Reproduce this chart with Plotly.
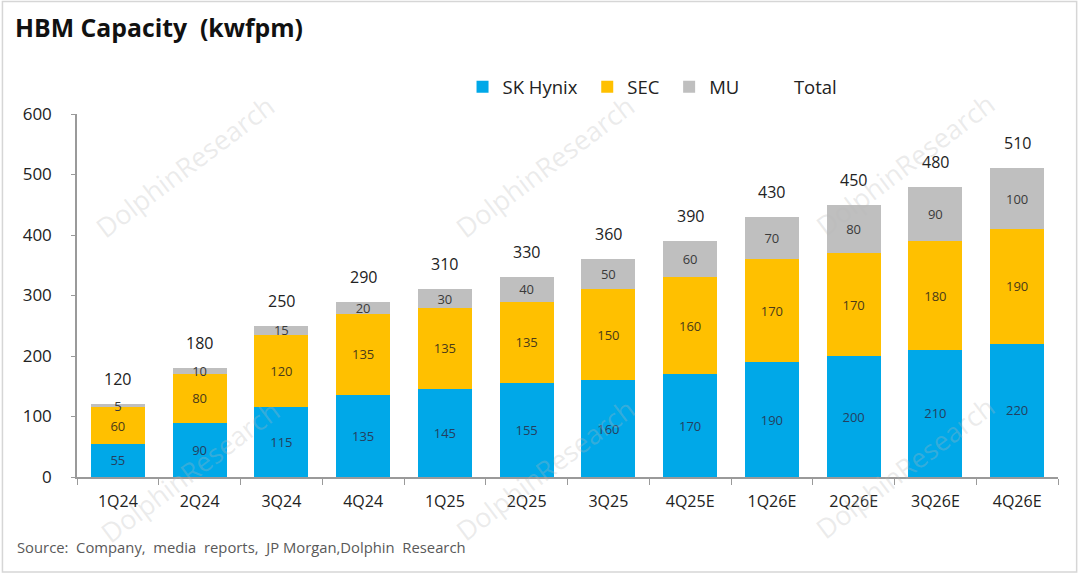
import plotly.graph_objects as go

categories = ["1Q24", "2Q24", "3Q24", "4Q24", "1Q25", "2Q25", "3Q25", "4Q25E", "1Q26E", "2Q26E", "3Q26E", "4Q26E"]
sk_hynix = [55, 90, 115, 135, 145, 155, 160, 170, 190, 200, 210, 220]
sec = [60, 80, 120, 135, 135, 135, 150, 160, 170, 170, 180, 190]
mu = [5, 10, 15, 20, 30, 40, 50, 60, 70, 80, 90, 100]
total = [120, 180, 250, 290, 310, 330, 360, 390, 430, 450, 480, 510]
y_ticks = [0, 100, 200, 300, 400, 500, 600]

FONT = "Open Sans"
NB = "\u00a0"
fig = go.Figure()

series = [
    ("SK Hynix" + NB, sk_hynix, "#00A8E8", "#24405F"),
    ("SEC" + NB, sec, "#FFC000", "#4A3A1A"),
    ("MU" + NB + NB, mu, "#BFBFBF", "#3A3A3A"),
]
for name, vals, color, tcolor in series:
    fig.add_trace(go.Bar(
        x=categories, y=vals, name=name,
        marker=dict(color=color, line=dict(width=0)),
        text=vals, textposition="inside", insidetextanchor="middle",
        textangle=0, textfont=dict(size=13, color=tcolor, family=FONT),
        cliponaxis=False,
    ))

fig.add_trace(go.Scatter(
    x=[None], y=[None], mode="lines", name="Total",
    line=dict(color="rgba(0,0,0,0)", width=0),
))

for c, t in zip(categories, total):
    fig.add_annotation(
        x=c, y=t, yshift=25, yanchor="middle", text=str(t), showarrow=False,
        font=dict(size=16, color="#222222", family=FONT),
    )

# faint watermarks
for (px, py) in [(0.11, 0.854), (0.477, 0.854), (0.844, 0.86), (0.115, 0.014), (0.477, 0.02), (0.844, 0.025)]:
    fig.add_annotation(
        xref="paper", yref="paper", x=px, y=py, xanchor="center", yanchor="middle",
        text="DolphinResearch", showarrow=False, textangle=-37,
        font=dict(size=27, color="rgba(185,185,185,0.28)", family=FONT),
    )

fig.update_layout(
    width=1080, height=575,
    barmode="stack", bargap=0.34,
    paper_bgcolor="white", plot_bgcolor="white",
    margin=dict(l=77, r=22, t=114, b=98),
    font=dict(family=FONT, color="#222222"),
    uniformtext=dict(minsize=13, mode="show"),
    title=dict(
        text="<b>HBM Capacity  (kwfpm)</b>", x=0.0139, xanchor="left",
        y=0.951, yanchor="middle", font=dict(size=24.8, color="#111111", family=FONT),
    ),
    legend=dict(
        orientation="h", x=0.393, xanchor="left", y=1.074, yanchor="middle",
        font=dict(size=18.5, color="#222222", family=FONT),
        traceorder="normal", bgcolor="rgba(0,0,0,0)",
    ),
    showlegend=True,
)
fig.update_xaxes(
    showline=True, linecolor="#9a9a9a", linewidth=1.5,
    ticks="outside", tickson="boundaries", ticklen=6, tickcolor="#9a9a9a",
    tickfont=dict(size=16, color="#222222", family=FONT), showgrid=False,
    ticklabelstandoff=9,
)
fig.update_yaxes(
    range=[0, 600], tickvals=y_ticks, showline=True, linecolor="#9a9a9a", linewidth=1.5,
    ticks="outside", ticklen=4, tickcolor="#9a9a9a", showgrid=False, zeroline=False,
    tickfont=dict(size=17, color="#222222", family=FONT), ticklabelstandoff=16,
)
fig.add_annotation(
    xref="paper", yref="paper", x=-0.0632, y=-0.193, xanchor="left", yanchor="middle",
    text="Source:  Company,  media  reports,  JP Morgan,Dolphin  Research",
    showarrow=False, font=dict(size=14.8, color="#595959", family=FONT),
)
fig.add_shape(type="rect", xref="paper", yref="paper", x0=-0.076, x1=1.019, y0=-0.262, y1=1.31,
              line=dict(color="#d6d6d6", width=1.5), fillcolor="rgba(0,0,0,0)", layer="below")

fig.write_html("out.html", post_script="document.body.style.margin='0';",
               config={"displayModeBar": False})
